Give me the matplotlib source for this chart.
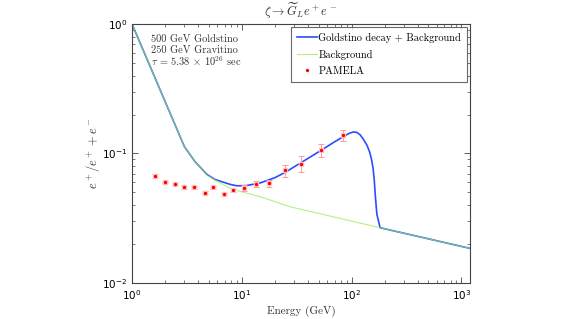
import numpy as np
import matplotlib
matplotlib.use('Agg')
from matplotlib import pyplot as plt

plt.rcParams['font.family'] = 'cmr10'
plt.rcParams['mathtext.fontset'] = 'cm'
plt.rcParams['axes.unicode_minus'] = False
plt.rcParams['axes.formatter.use_mathtext'] = True

# background (piecewise in log-log)
bg_E = [1.0, 3.0, 3.75, 4.8, 5.7, 7.8, 10.0, 14.7, 27.5, 182, 1200]
bg_y = [1.0, 0.113, 0.0865, 0.0683, 0.0624, 0.0538, 0.0505, 0.0464, 0.0388, 0.0267, 0.0185]

# goldstino decay + background
sig_E = [1.0, 3.0, 3.75, 4.8, 5.7, 7.8, 9.0, 11.0, 14.7, 20.0, 24.5, 34.7, 53.0, 70.0, 83.0,
         95.0, 104, 112, 120, 128, 138, 146, 152, 157, 161, 165, 170, 182, 1200]
sig_y = [1.0, 0.113, 0.0865, 0.069, 0.063, 0.0578, 0.0563, 0.0565, 0.0592, 0.065, 0.071, 0.085,
         0.106, 0.123, 0.134, 0.143, 0.1466, 0.1455, 0.139, 0.129, 0.116, 0.103, 0.090, 0.077,
         0.062, 0.046, 0.034, 0.0267, 0.0185]

# PAMELA positron fraction
pam_E = [1.63, 2.01, 2.44, 3.0, 3.7, 4.58, 5.5, 6.9, 8.4, 10.4, 13.4, 17.8, 24.5, 34.7, 53.0, 83.0]
pam_y = [0.0674, 0.0603, 0.0581, 0.0548, 0.0548, 0.0498, 0.0548, 0.0484, 0.0525, 0.0544,
         0.0581, 0.0589, 0.0742, 0.0834, 0.1064, 0.138]
pam_err = [0.0025, 0.0015, 0.0015, 0.0012, 0.0012, 0.0012, 0.0015, 0.0015, 0.002, 0.003,
           0.003, 0.004, 0.008, 0.012, 0.013, 0.014]

info_lines = ['500 GeV Goldstino', '250 GeV Gravitino',
              r'$\tau$ = 5.38 $\times$ 10$^{26}$ sec']

fig = plt.figure(figsize=(5.81, 3.19), dpi=100)
ax = fig.add_axes([0.2272, 0.1129, 0.5818, 0.8119])

ax.plot(sig_E, sig_y, color='#2a4dff', lw=1.2, label='Goldstino decay + Background')
ax.plot(bg_E, bg_y, color='#99ee55', lw=0.8, alpha=0.75, label='Background')

ax.errorbar(pam_E, pam_y, yerr=pam_err, fmt='none', ecolor='#ff9a9a', elinewidth=0.7,
            capsize=2.2, capthick=0.7)
ax.plot(pam_E, pam_y, 's', ms=3.2, mfc='#ffc4c4', mec='#ffc4c4', zorder=4)
ax.plot(pam_E, pam_y, '.', color='red', ms=2.8, zorder=5, label='PAMELA')

ax.set_xscale('log')
ax.set_yscale('log')
ax.set_xlim(1, 1200)
ax.set_ylim(0.01, 1)

ax.tick_params(which='both', direction='in', top=True, right=True, colors='#444444',
               labelcolor='black')
ax.tick_params(which='major', length=4, width=0.6)
ax.tick_params(which='minor', length=2, width=0.5)
for s in ax.spines.values():
    s.set_color('#444444')
    s.set_linewidth(0.8)

fmt = matplotlib.ticker.FuncFormatter(lambda v, p: r'$10^{%d}$' % round(np.log10(v)))
ax.xaxis.set_major_formatter(fmt)
ax.yaxis.set_major_formatter(fmt)
for lab in ax.get_xticklabels() + ax.get_yticklabels():
    lab.set_math_fontfamily('dejavusans')
    lab.set_fontsize(7.5)

ax.set_title(r'$\zeta \rightarrow \widetilde{G}_L e^+ e^-$', fontsize=9, pad=6, color='#333333')
ax.set_xlabel('Energy (GeV)', fontsize=8, color='#333333', labelpad=3)
ax.set_ylabel(r'$e^+/e^+ + e^-$', fontsize=9, color='#333333', labelpad=0)

for i, line in enumerate(info_lines):
    ax.text(0.055, 0.942 - 0.043 * i, line, transform=ax.transAxes, fontsize=7.5,
            va='center', ha='left', color='#333333')

leg = ax.legend(loc='upper right', fontsize=7.5, fancybox=False, edgecolor='#444444',
                borderaxespad=0.3, handlelength=1.9, handletextpad=0.15, labelspacing=0.65,
                borderpad=0.55)
leg.get_frame().set_linewidth(0.8)

fig.savefig('out.png', dpi=100)
